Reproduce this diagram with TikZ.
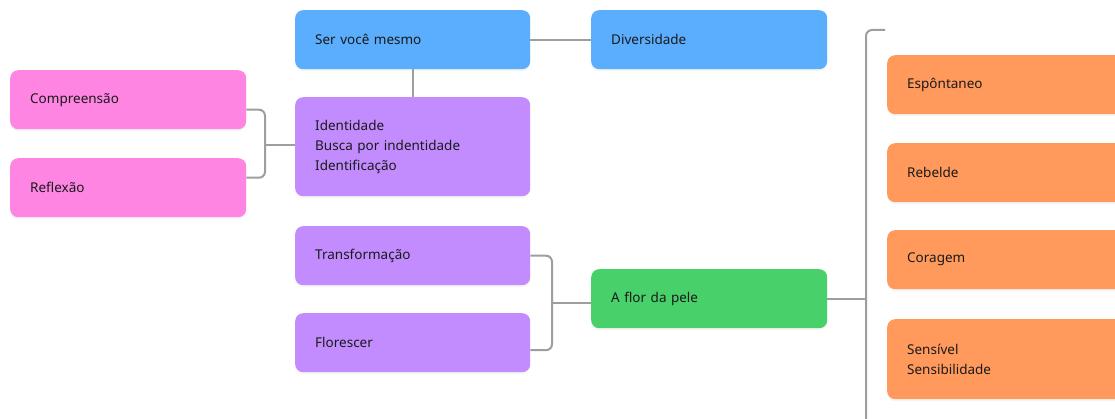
\documentclass[tikz,border=0pt]{standalone}
\usepackage{fontspec}
\setmainfont{Noto Sans}
\usetikzlibrary{calc,shadows}
\definecolor{cblue}{HTML}{5BADFE}
\definecolor{cpink}{HTML}{FF85E3}
\definecolor{cpurple}{HTML}{C28CFF}
\definecolor{cgreen}{HTML}{48D06B}
\definecolor{corange}{HTML}{FF9A5C}
\definecolor{cline}{HTML}{9E9E9E}
\definecolor{ctext}{HTML}{1A1A1A}
\begin{document}
\begin{tikzpicture}[x=1pt,y=-1pt,
  box/.style={rounded corners=8pt, minimum height=59pt, text width=195pt,
    inner xsep=20pt, inner ysep=0pt, align=left, anchor=north west,
    font=\fontsize{13.5}{20}\selectfont, text=ctext,
    drop shadow={opacity=0.08, shadow xshift=0pt, shadow yshift=-2pt}},
  widebox/.style={box, text width=230pt},
  link/.style={draw=cline, line width=2pt, rounded corners=6pt}]
\useasboundingbox (0,0) rectangle (1115,419);
\fill[white] (0,0) rectangle (1115,419);

% boxes
\node[box, fill=cblue] (self) at (295,10) {Ser você mesmo};
\node[box, fill=cblue, text width=196pt] (div) at (591,10) {Diversidade};
\node[box, fill=cpink, text width=196pt] (comp) at (10,70) {Compreensão};
\node[box, fill=cpink, text width=196pt] (refl) at (10,158) {Reflexão};
\node[box, fill=cpurple, minimum height=99pt] (ident) at (295,97)
  {Identidade\\Busca por indentidade\\Identificação};
\node[box, fill=cpurple] (trans) at (295,226) {Transformação};
\node[box, fill=cpurple] (flor) at (295,313) {Florescer};
\node[box, fill=cgreen, text width=196pt] (pele) at (591,269) {A flor da pele};
\node[widebox, fill=corange] (esp) at (887,55) {Espôntaneo};
\node[widebox, fill=corange] (reb) at (887,143) {Rebelde};
\node[widebox, fill=corange] (cor) at (887,230) {Coragem};
\node[widebox, fill=corange, minimum height=80pt] (sens) at (887,319)
  {Sensível\\Sensibilidade};

% connectors
\draw[link] (self.east) -- (div.west);
\draw[link] (self.south) -- (self.south |- ident.north);

\coordinate (j1) at (265,145);
\draw[link] ($(comp.east)+(0,10)$) -| (j1) |- ($(refl.east)+(0,-10)$);
\draw[link] (j1) -- (j1 -| ident.west);

\coordinate (j2) at (552,303);
\draw[link] (trans.east) -| (j2) |- ($(flor.east)+(0,7.5)$);
\draw[link] (j2) -- (j2 -| pele.west);

\coordinate (spine) at (866,30);
\coordinate (bt) at (885,30);
\coordinate (bb) at (885,430);
\draw[link] (bt) -- (spine) |- (bb);
\draw[link] (pele.east) -- (pele.east -| spine);
\end{tikzpicture}
\end{document}
